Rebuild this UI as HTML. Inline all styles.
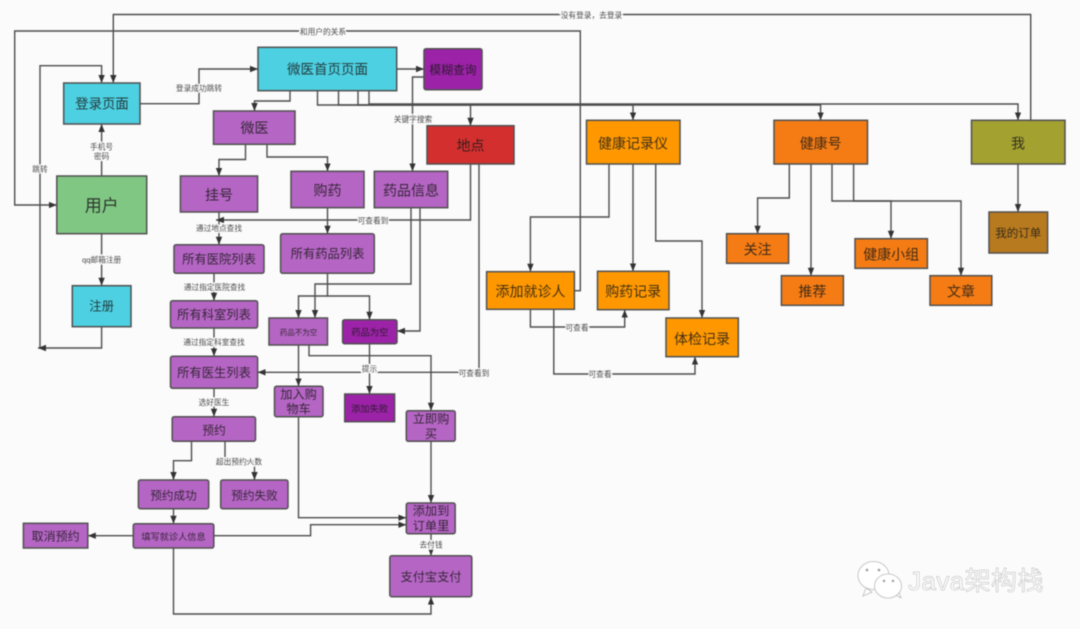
<!DOCTYPE html>
<html><head><meta charset="utf-8">
<style>
html,body{margin:0;padding:0;background:#fbfbfb;width:1080px;height:629px;overflow:hidden}
svg{display:block;filter:blur(.45px)}
text{font-family:"Liberation Sans","Noto Sans CJK SC",sans-serif;text-anchor:middle;dominant-baseline:central;fill:rgba(25,25,25,.82)}
.e path{fill:none;stroke:#4d4d4d;stroke-width:1.4}
.a path{marker-end:url(#m)}
.n rect{stroke:#505050;stroke-width:1.5}
.l text{font-size:7.7px;fill:#4a4a4a;paint-order:stroke;stroke:#fbfbfb;stroke-width:2.5px}
.c{fill:#4dd0e1}.p{fill:#b565c4}.d{fill:#9c22a8}.o{fill:#ff9800}.f{fill:#f57c14}
</style></head><body>
<svg width="1080" height="629" viewBox="0 0 1080 629" xmlns="http://www.w3.org/2000/svg">
<defs><marker id="m" markerUnits="userSpaceOnUse" markerWidth="8" markerHeight="8" refX="8" refY="4" orient="auto"><path d="M0,.8 L8,4 L0,7.2 z" fill="#333"/></marker></defs>
<g class="e a">
<path d="M1030.7,120.3V14.5H113.3V83"/>
<path d="M574.4,290.7H580.3V31H14.7V205H56.8"/>
<path d="M40,348V65.7H101.6V83"/>
<path d="M101.6,326.7V348H38"/>
<path d="M101.6,176V124"/>
<path d="M101.6,233.7V285.7"/>
<path d="M140,103.7H199V69H258"/>
<path d="M396.7,69H424"/>
<path d="M424,77H412.5V171.3"/>
<path d="M290,90.7V101H254.5V111"/>
<path d="M317.5,90.7V105H470.5V125.7"/>
<path d="M338.5,90.7V105H633V120.3"/>
<path d="M358,90.7V105H820.6V120.3"/>
<path d="M369,90.7V104H1018V120.3"/>
<path d="M245.5,144.3V159.5H219V176"/>
<path d="M267,144.3V157H327.5V171.3"/>
<path d="M219,212V244.7"/>
<path d="M470.5,164V220H216"/>
<path d="M479,164V372.3H257.6"/>
<path d="M327.5,207.7V233.7"/>
<path d="M327.5,273.3V296H298.5V318"/>
<path d="M327.5,296H369.5V319.7"/>
<path d="M411,207.7V284H315V318"/>
<path d="M420,207.7V331H397"/>
<path d="M298.5,345V386.3"/>
<path d="M309,345V355.7H431V410.7"/>
<path d="M369.5,343.7V394"/>
<path d="M298.5,416.7V517.7H406.3"/>
<path d="M431,441.3V503"/>
<path d="M213.8,535.7H310.6V524.7H406.3"/>
<path d="M431,533.7V555.7"/>
<path d="M173.5,548V614H431V596.7"/>
<path d="M133.3,535.7H87.8"/>
<path d="M173.5,508.7V523.7"/>
<path d="M191.5,441.3V460.7H173.5V480"/>
<path d="M225,441.3V461H254.5V480"/>
<path d="M214,273.3V300.7"/>
<path d="M214,328V356.3"/>
<path d="M214,388.3V416.7"/>
<path d="M609,164V217H530.4V271.7"/>
<path d="M633,164V271.3"/>
<path d="M655.7,164V241H702V318"/>
<path d="M530.4,309.3V327H624.7V309.7"/>
<path d="M553.8,309.3V374H695V356.7"/>
<path d="M789.3,164V198H757.6V233.7"/>
<path d="M811,164V275.7"/>
<path d="M832,164V201H891V238.7"/>
<path d="M853.6,164V201H961V275.7"/>
<path d="M1018,164V212"/>
</g>
<g class="n">
<rect class="c" x="258" y="47.3" width="138.7" height="43.4"/>
<rect class="d" x="424" y="48.7" width="58" height="41" rx="2"/>
<rect class="c" x="63.7" y="83" width="76.3" height="41"/>
<rect class="p" x="213.5" y="111" width="81.5" height="33.3"/>
<rect fill="#d32f2f" x="427" y="125.7" width="87" height="38.3"/>
<rect fill="#81c784" x="56.8" y="176" width="89.9" height="57.7"/>
<rect class="p" x="180.4" y="176" width="77.2" height="36"/>
<rect class="p" x="291" y="171.3" width="73" height="36.4"/>
<rect class="p" x="374.3" y="171.3" width="73.4" height="36.4"/>
<rect class="p" x="174" y="244.7" width="90" height="28.6" rx="2"/>
<rect class="p" x="280.6" y="233.7" width="93.7" height="39.6" rx="2"/>
<rect class="c" x="72.3" y="285.7" width="58.7" height="41"/>
<rect class="p" x="170.5" y="300.7" width="87.1" height="27.3" rx="2"/>
<rect class="p" x="269" y="318" width="58.5" height="27"/>
<rect class="d" x="342.6" y="319.7" width="54.4" height="24" rx="2"/>
<rect class="p" x="170.5" y="356.3" width="87.1" height="32" rx="2"/>
<rect class="p" x="274.5" y="386.3" width="48.5" height="30.4" rx="2"/>
<rect class="d" x="344.7" y="394" width="49.9" height="27.7"/>
<rect class="p" x="406.3" y="410.7" width="48.9" height="30.6" rx="2"/>
<rect class="p" x="172.2" y="416.7" width="83.3" height="24.6" rx="2"/>
<rect class="p" x="138.4" y="480" width="70.3" height="28.7" rx="2"/>
<rect class="p" x="220.7" y="480" width="67.3" height="28.7" rx="2"/>
<rect class="p" x="406.3" y="503" width="48.9" height="30.7" rx="2"/>
<rect class="p" x="23.4" y="523.3" width="64.4" height="24.7"/>
<rect class="p" x="133.3" y="523.7" width="80.5" height="24.3" rx="2"/>
<rect class="p" x="389.8" y="555.7" width="82" height="41" rx="2"/>
<rect class="o" x="586.5" y="120.3" width="93.5" height="43.7"/>
<rect class="f" x="774" y="120.3" width="93.5" height="43.7"/>
<rect fill="#a3a130" x="971.5" y="120.3" width="93.5" height="43.7"/>
<rect class="o" x="486.6" y="271.7" width="87.8" height="37.6"/>
<rect class="o" x="597.5" y="271.3" width="71.5" height="38.4"/>
<rect class="o" x="666" y="318" width="72.3" height="38.7"/>
<rect class="f" x="726.6" y="233.7" width="62" height="29.6"/>
<rect class="f" x="781.4" y="275.7" width="62" height="29.6"/>
<rect class="f" x="855" y="238.7" width="72.4" height="29.6"/>
<rect class="f" x="930" y="275.7" width="61.8" height="29.6"/>
<rect fill="#b87a1e" x="989" y="212" width="58.6" height="41"/>
</g>
<g>
<text x="327.5" y="69.5" font-size="13.5">微医首页页面</text>
<text x="453" y="70" font-size="11.8">模糊查询</text>
<text x="102" y="104" font-size="13.4">登录页面</text>
<text x="254.5" y="128" font-size="14">微医</text>
<text x="470.5" y="145.5" font-size="14">地点</text>
<text x="101.7" y="206" font-size="17">用户</text>
<text x="219" y="195" font-size="14">挂号</text>
<text x="327.5" y="190.5" font-size="14">购药</text>
<text x="411" y="190.5" font-size="14">药品信息</text>
<text x="219" y="259.5" font-size="12.3">所有医院列表</text>
<text x="327.5" y="254" font-size="12.3">所有药品列表</text>
<text x="101.7" y="306.5" font-size="12.4">注册</text>
<text x="214" y="315" font-size="12.3">所有科室列表</text>
<text x="298.5" y="332.5" font-size="7.5">药品不为空</text>
<text x="369.8" y="332.5" font-size="9.3">药品为空</text>
<text x="214" y="373" font-size="12.3">所有医生列表</text>
<text x="298.5" y="394.5" font-size="12.2">加入购</text>
<text x="298.5" y="409" font-size="12.2">物车</text>
<text x="369.6" y="409" font-size="9.3">添加失败</text>
<text x="431" y="419" font-size="12.2">立即购</text>
<text x="431" y="434" font-size="12.2">买</text>
<text x="214" y="431" font-size="11.7">预约</text>
<text x="173.5" y="496" font-size="11.6">预约成功</text>
<text x="254.5" y="496" font-size="11.6">预约失败</text>
<text x="431" y="511" font-size="12.2">添加到</text>
<text x="431" y="526" font-size="12.2">订单里</text>
<text x="55.6" y="536.5" font-size="12">取消预约</text>
<text x="173.5" y="537" font-size="9.2">填写就诊人信息</text>
<text x="431" y="577" font-size="12.2">支付宝支付</text>
<text x="633" y="143.5" font-size="14">健康记录仪</text>
<text x="820.7" y="143.5" font-size="14">健康号</text>
<text x="1018" y="143.5" font-size="14">我</text>
<text x="530.5" y="291.5" font-size="14">添加就诊人</text>
<text x="633.2" y="291.5" font-size="14">购药记录</text>
<text x="702" y="339" font-size="14">体检记录</text>
<text x="757.6" y="249.5" font-size="14">关注</text>
<text x="812.4" y="291.5" font-size="14">推荐</text>
<text x="891.2" y="254.5" font-size="14">健康小组</text>
<text x="961" y="291.5" font-size="14">文章</text>
<text x="1018.3" y="234" font-size="11.5">我的订单</text>
</g>
<rect x="561" y="11" width="61" height="9" fill="#fbfbfb"/>
<g class="l">
<text x="591.5" y="15.5">没有登录，去登录</text>
<text x="323" y="32">和用户的关系</text>
<text x="40" y="169.5">跳转</text>
<text x="101.6" y="147">手机号</text>
<text x="101.6" y="156.5">密码</text>
<text x="101.6" y="260">qq邮箱注册</text>
<text x="199" y="88.5">登录成功跳转</text>
<text x="413" y="119.5">关键字搜索</text>
<text x="219" y="228.5">通过地点查找</text>
<text x="373" y="221">可查看到</text>
<text x="214.5" y="287.5">通过指定医院查找</text>
<text x="214" y="342.5">通过指定科室查找</text>
<text x="214" y="402.5">选好医生</text>
<text x="239" y="462">超出预约人数</text>
<text x="369.5" y="369">提示</text>
<text x="474" y="373.5">可查看到</text>
<text x="431" y="545">去付钱</text>
<text x="577" y="328">可查看</text>
<text x="600" y="374.5">可查看</text>
</g>
<g fill="#fff" stroke="#bbb" stroke-width=".8">
<path d="M866,588 L863,596 L872,592 Z"/>
<ellipse cx="873.5" cy="575.5" rx="15.5" ry="14"/>
<path d="M896,595 L901,598 L898,589 Z"/>
<ellipse cx="888" cy="586" rx="13.5" ry="12"/>
</g>
<g fill="#999"><circle cx="867" cy="570" r="1.3"/><circle cx="879" cy="570" r="1.3"/><circle cx="884" cy="581" r="1.2"/><circle cx="893" cy="581" r="1.2"/></g>
<text x="976" y="581" style="font-size:26px;fill:#fff;stroke:#b5b5b5;stroke-width:.5px;letter-spacing:.4px">Java架构栈</text>
</svg>
</body></html>
